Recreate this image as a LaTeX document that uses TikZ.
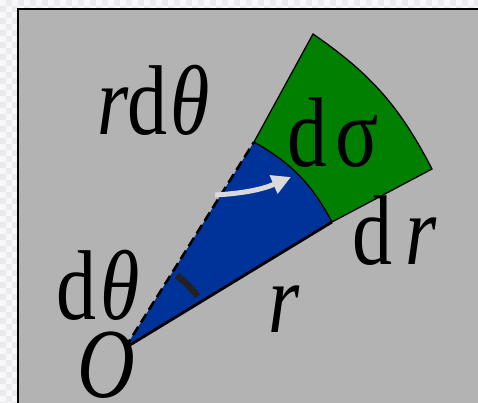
\documentclass[tikz,border=0pt]{standalone}
\usepackage{fontspec}
\setmainfont{Liberation Serif}
\usetikzlibrary{arrows.meta}
\definecolor{bggray}{HTML}{B3B3B3}
\definecolor{secgreen}{HTML}{007F00}
\definecolor{secblue}{HTML}{00339A}
\definecolor{arrowgray}{HTML}{DADADA}
\definecolor{checkA}{HTML}{F7F7F9}
\definecolor{checkB}{HTML}{EAEAEE}
\definecolor{markgray}{HTML}{222222}
\newcommand\tallglyph[1]{\scalebox{1}[1.24]{#1}}
\tikzset{
  lbl/.style={anchor=base west, inner sep=0pt, outer sep=0pt, font=\fontsize{80}{88}\selectfont},
}
\begin{document}
\begin{tikzpicture}[x=1pt,y=1pt]
\useasboundingbox (0,0) rectangle (478,403);
% checker background
\fill[checkA] (0,0) rectangle (478,403);
\foreach \i in {0,...,4}{
  \foreach \j in {0,...,67}{
    \ifodd\numexpr\i+\j\relax
      \fill[checkB] (\i*6,403-\j*6) rectangle ++(6,-6);
    \fi
  }
}
\foreach \i in {4,...,79}{
  \foreach \j in {0,...,1}{
    \ifodd\numexpr\i+\j\relax
      \fill[checkB] (\i*6,403-\j*6) rectangle ++(6,-6);
    \fi
  }
}
% gray panel
\filldraw[fill=bggray, draw=black, line width=2pt] (18,-5) rectangle (485,394);
% key points
\coordinate (O) at (125,55);
\coordinate (A) at (254,261);
\coordinate (B) at (313,369);
\coordinate (C) at (432,234);
\coordinate (D) at (332,181);
% green element
\fill[secgreen] (A) -- (B) to[bend left=14] (C) -- (D) to[bend right=16] (A) -- cycle;
% blue sector
\fill[secblue] (O) -- (A) to[bend left=16] (D) -- cycle;
% outlines
\draw[black, line width=1.3pt] (A) -- (B) to[bend left=14] (C) -- (D);
\draw[black, line width=1.3pt] (A) to[bend left=16] (D);
\draw[black, line width=2.6pt, dash pattern=on 10pt off 5pt] (O) -- (A);
\draw[black, line width=2.8pt] (O) -- (D);
% angle mark
\draw[markgray, line width=6.5pt] ([shift={(35.5:89)}]O) arc[start angle=35.5, end angle=54.5, radius=89];
% arrow
\coordinate (s) at (215,208);
\coordinate (t) at (291,226);
\draw[arrowgray, line width=5pt, -{Triangle[length=19pt,width=19pt]}] (s) to[bend right=10] (t);
% labels
\node[lbl] (r1) at (97,268) {\tallglyph{\textit{r}}};
\node[lbl] (d1) at (127,268) {\tallglyph{d}};
\node[lbl] (th1) at (170,268) {\tallglyph{\textit{θ}}};
\node[lbl] (d2) at (287,236) {\tallglyph{d}};
\node[lbl] (sig) at (335,236) {\tallglyph{σ}};
\node[lbl] (d3) at (352,138) {\tallglyph{d}};
\node[lbl] (r3) at (405,138) {\tallglyph{\textit{r}}};
\node[lbl] (d4) at (56,83) {\tallglyph{d}};
\node[lbl] (th4) at (100,83) {\tallglyph{\textit{θ}}};
\node[lbl] (r4) at (268,70) {\tallglyph{\textit{r}}};
\node[lbl] (o) at (77,5) {\tallglyph{\textit{O}}};
\end{tikzpicture}
\end{document}
